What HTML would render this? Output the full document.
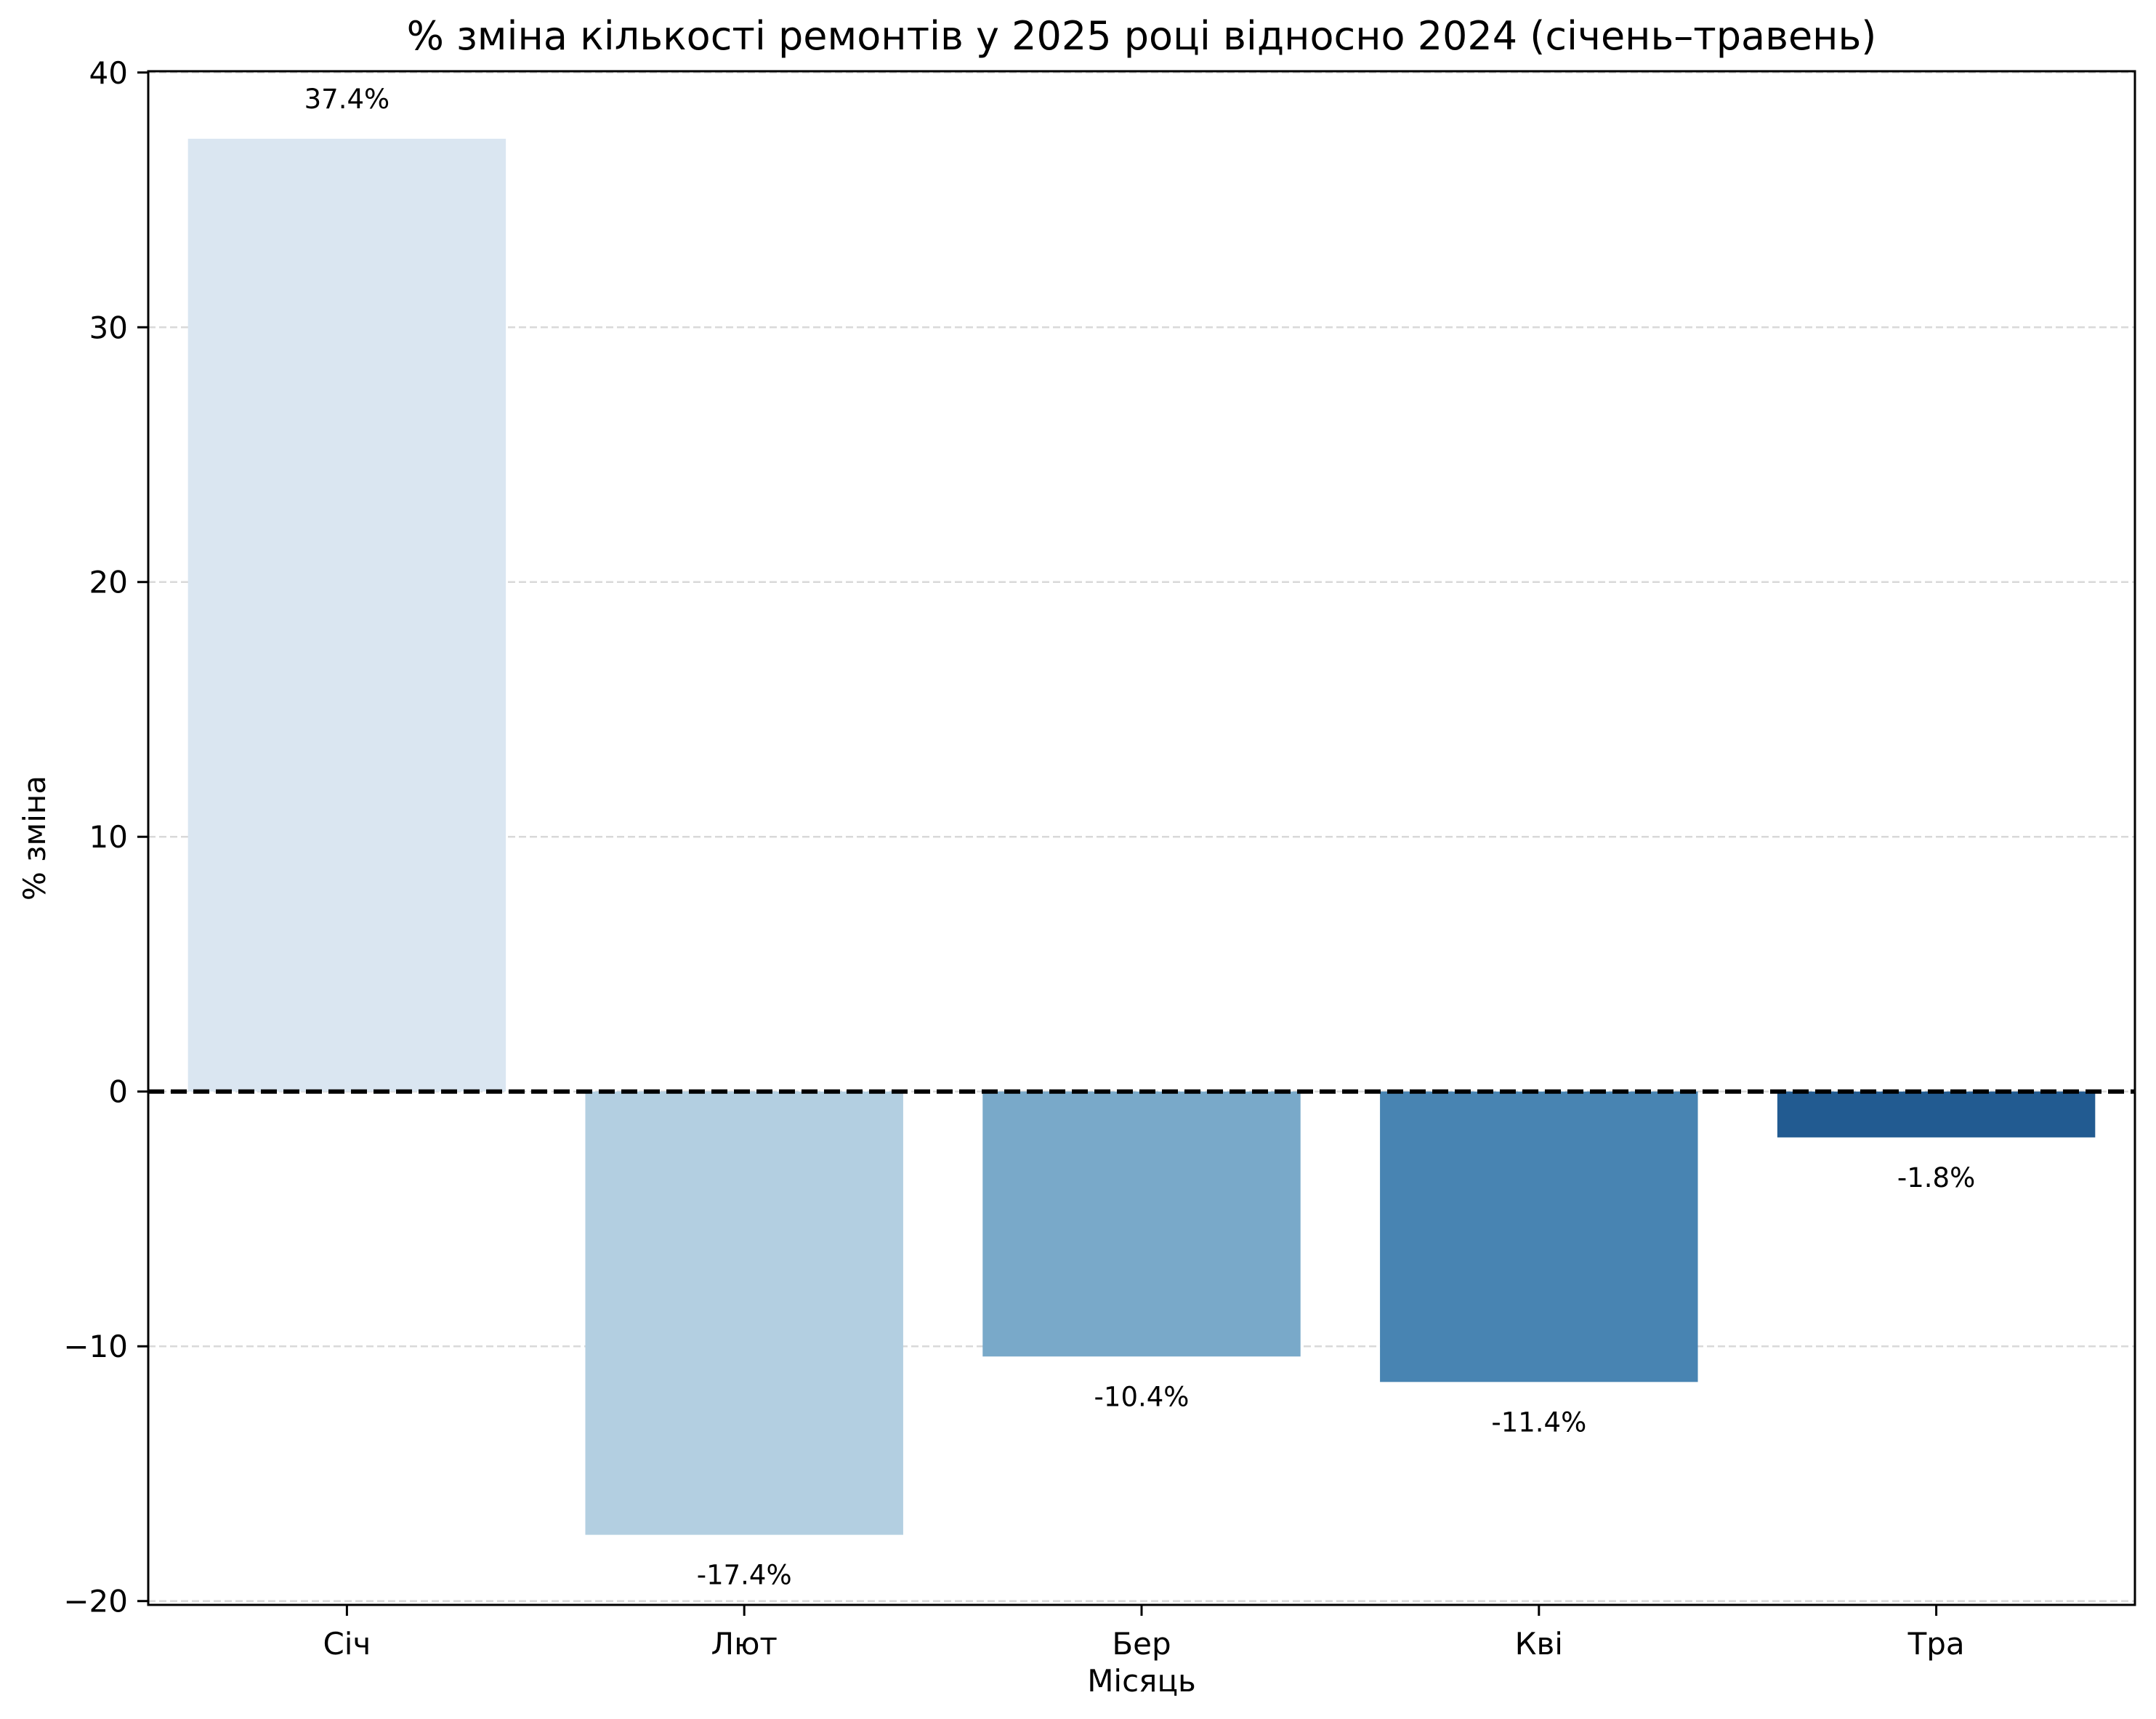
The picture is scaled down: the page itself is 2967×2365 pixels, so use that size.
<!DOCTYPE html>
<html><head><meta charset="utf-8"><style>body{margin:0;background:#fff}svg{display:block}</style></head>
<body>
<svg id="chart" width="2967" height="2365" xmlns="http://www.w3.org/2000/svg" font-family="'DejaVu Sans','Liberation Sans',sans-serif"></svg>
<script>
const categories = ["Січ","Лют","Бер","Кві","Тра"];
const values = [37.4, -17.4, -10.4, -11.4, -1.8];
const labels = ["37.4%","-17.4%","-10.4%","-11.4%","-1.8%"];
const colors = ["#dae6f1","#b3cfe1","#79a9c9","#4884b2","#225b91"];
const yTicks = [-20,-10,0,10,20,30,40];
const yTickLabels = ["−20","−10","0","10","20","30","40"];

const L=204,R=2938,T=98,B=2208;
const yMin=-20.15,yMax=40.05;
const y=v=>T+(yMax-v)/(yMax-yMin)*(B-T);
const x=i=>L+(i+0.5)/categories.length*(R-L);
const bw=0.8*(R-L)/categories.length;
const svg=document.getElementById('chart');
const NS="http://www.w3.org/2000/svg";
function mk(tag,attrs,parent){const e=document.createElementNS(NS,tag);for(const k in attrs)e.setAttribute(k,attrs[k]);(parent||svg).appendChild(e);return e;}

yTicks.forEach((t,i)=>{
  const g=mk('line',{x1:L,x2:R,y1:y(t),y2:y(t),stroke:'#d9d9d9','stroke-width':2.5,'stroke-dasharray':'10 5'});
  
  
  const tk=mk('line',{x1:L-15,x2:L,y1:y(t),y2:y(t),stroke:'#000','stroke-width':3});
  
  
  const tl=mk('text',{x:L-28,y:y(t)+15,'text-anchor':'end','font-size':42});
  tl.textContent=yTickLabels[i];
  
  
});

values.forEach((v,i)=>{
  const top=Math.min(y(v),y(0)),h=Math.abs(y(v)-y(0));
  const r=mk('rect',{x:x(i)-bw/2,y:top,width:bw,height:h,fill:colors[i]});
  
  
  const ly=v>=0?y(v)-55+13:y(v)+55+13;
  const t=mk('text',{x:x(i),y:ly,'text-anchor':'middle','font-size':37});
  t.textContent=labels[i];
  
  
  const tk=mk('line',{x1:x(i),x2:x(i),y1:B,y2:B+15,stroke:'#000','stroke-width':3});
  
  
  const xl=mk('text',{x:x(i),y:B+68,'text-anchor':'middle','font-size':42});
  xl.textContent=categories[i];
  
  
});

const z=mk('line',{x1:L,x2:R,y1:y(0),y2:y(0),stroke:'#000','stroke-width':6,'stroke-dasharray':'22 9'});


const fr=mk('rect',{x:L,y:T,width:R-L,height:B-T,fill:'none',stroke:'#000','stroke-width':3});



const title=mk('text',{x:(L+R)/2,y:68,'text-anchor':'middle','font-size':54});
title.textContent='% зміна кількості ремонтів у 2025 році відносно 2024 (січень–травень)';


const xt=mk('text',{x:(L+R)/2,y:2327,'text-anchor':'middle','font-size':42});
xt.textContent='Місяць';


const yt=mk('text',{x:0,y:0,'text-anchor':'middle','font-size':42,transform:'translate(62,1153) rotate(-90)'});
yt.textContent='% зміна';


</script>
</body></html>
